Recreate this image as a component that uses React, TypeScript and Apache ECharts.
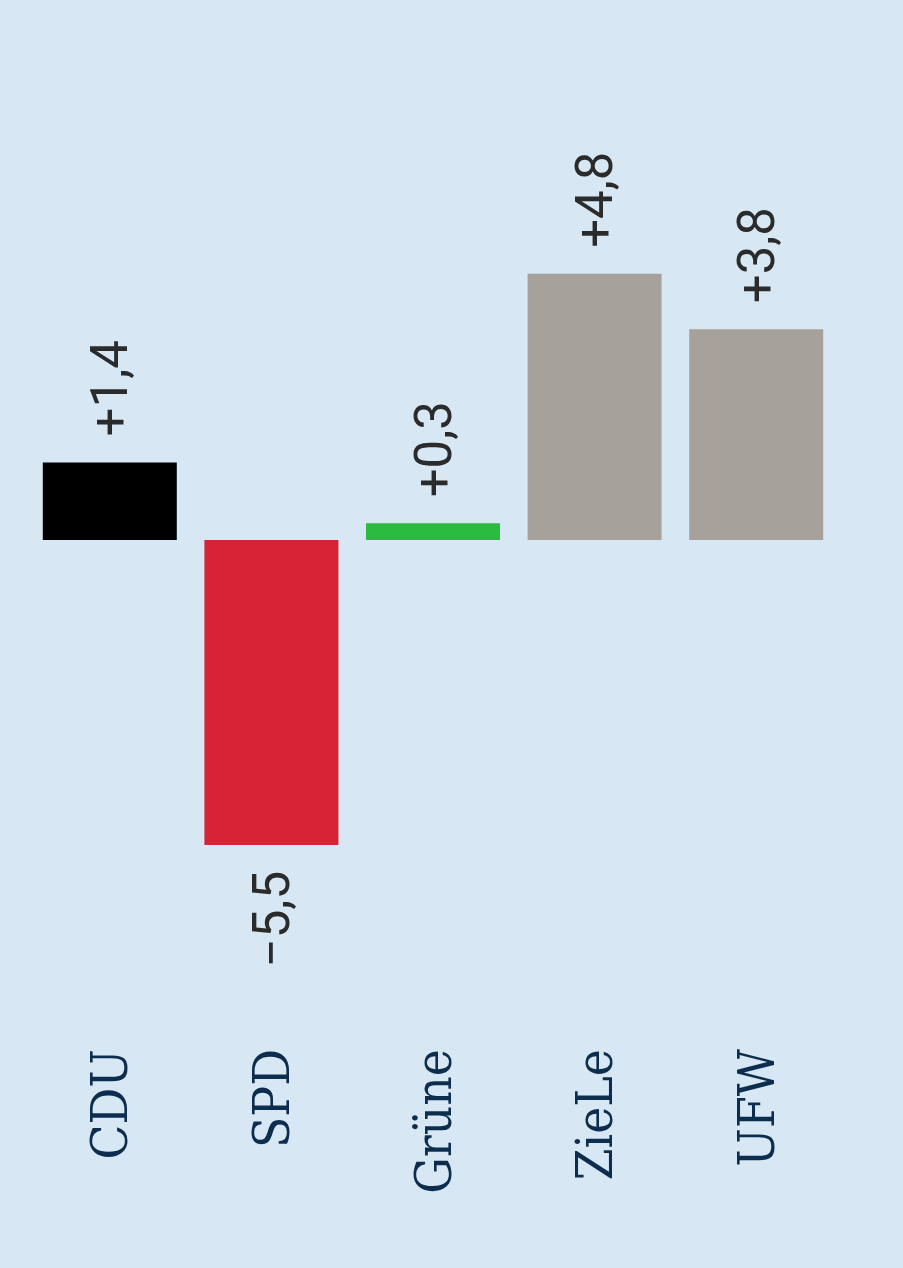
import React, { useEffect, useRef } from "react";
import * as echarts from "echarts";

const PARTIES = ["CDU", "SPD", "Grüne", "ZieLe", "UFW"];
const CHANGES = [1.4, -5.5, 0.3, 4.8, 3.8];
const COLORS = ["#000000", "#d82235", "#2bbb3f", "#a6a29b", "#a6a29b"];

const BG = "#d7e8f4";

function fmt(v: number) {
    const s = Math.abs(v).toFixed(1).replace(".", ",");
    return (v < 0 ? "\u2212" : "+") + s;
}

const App: React.FC = () => {
    const ref = useRef<HTMLDivElement | null>(null);

    useEffect(() => {
        document.body.style.margin = "0";
        if (!ref.current) return;
        const inst = echarts.init(ref.current, undefined, { renderer: "svg" });

        inst.setOption({
            animation: false,
            backgroundColor: BG,
            grid: { left: 29, right: 66, top: 41, height: 998 },
            xAxis: {
                type: "category",
                data: PARTIES,
                position: "bottom",
                axisLine: { show: false, onZero: false },
                axisTick: { show: false },
                axisLabel: {
                    rotate: 90,
                    margin: 10,
                    color: "#0c2d4e",
                    fontFamily: "DejaVu Serif Condensed",
                    fontSize: 51,
                },
            },
            yAxis: {
                type: "value",
                min: -9,
                max: 9,
                show: false,
                splitLine: { show: false },
            },
            series: [
                {
                    type: "bar",
                    barWidth: 134,
                    data: CHANGES.map((v, i) => ({
                        value: v,
                        itemStyle: { color: COLORS[i] },
                        label: {
                            show: true,
                            position: v < 0 ? "bottom" : "top",
                            rotate: 90,
                            align: v < 0 ? "right" : "left",
                            verticalAlign: "middle",
                            distance: 26,
                            formatter: () => fmt(v),
                            color: "#2b2b2b",
                            fontFamily: "Roboto",
                            fontSize: 51,
                        },
                    })),
                },
            ],
        });

        return () => inst.dispose();
    }, []);

    return <div ref={ref} style={{ width: 903, height: 1268 }} />;
};

export default App;
